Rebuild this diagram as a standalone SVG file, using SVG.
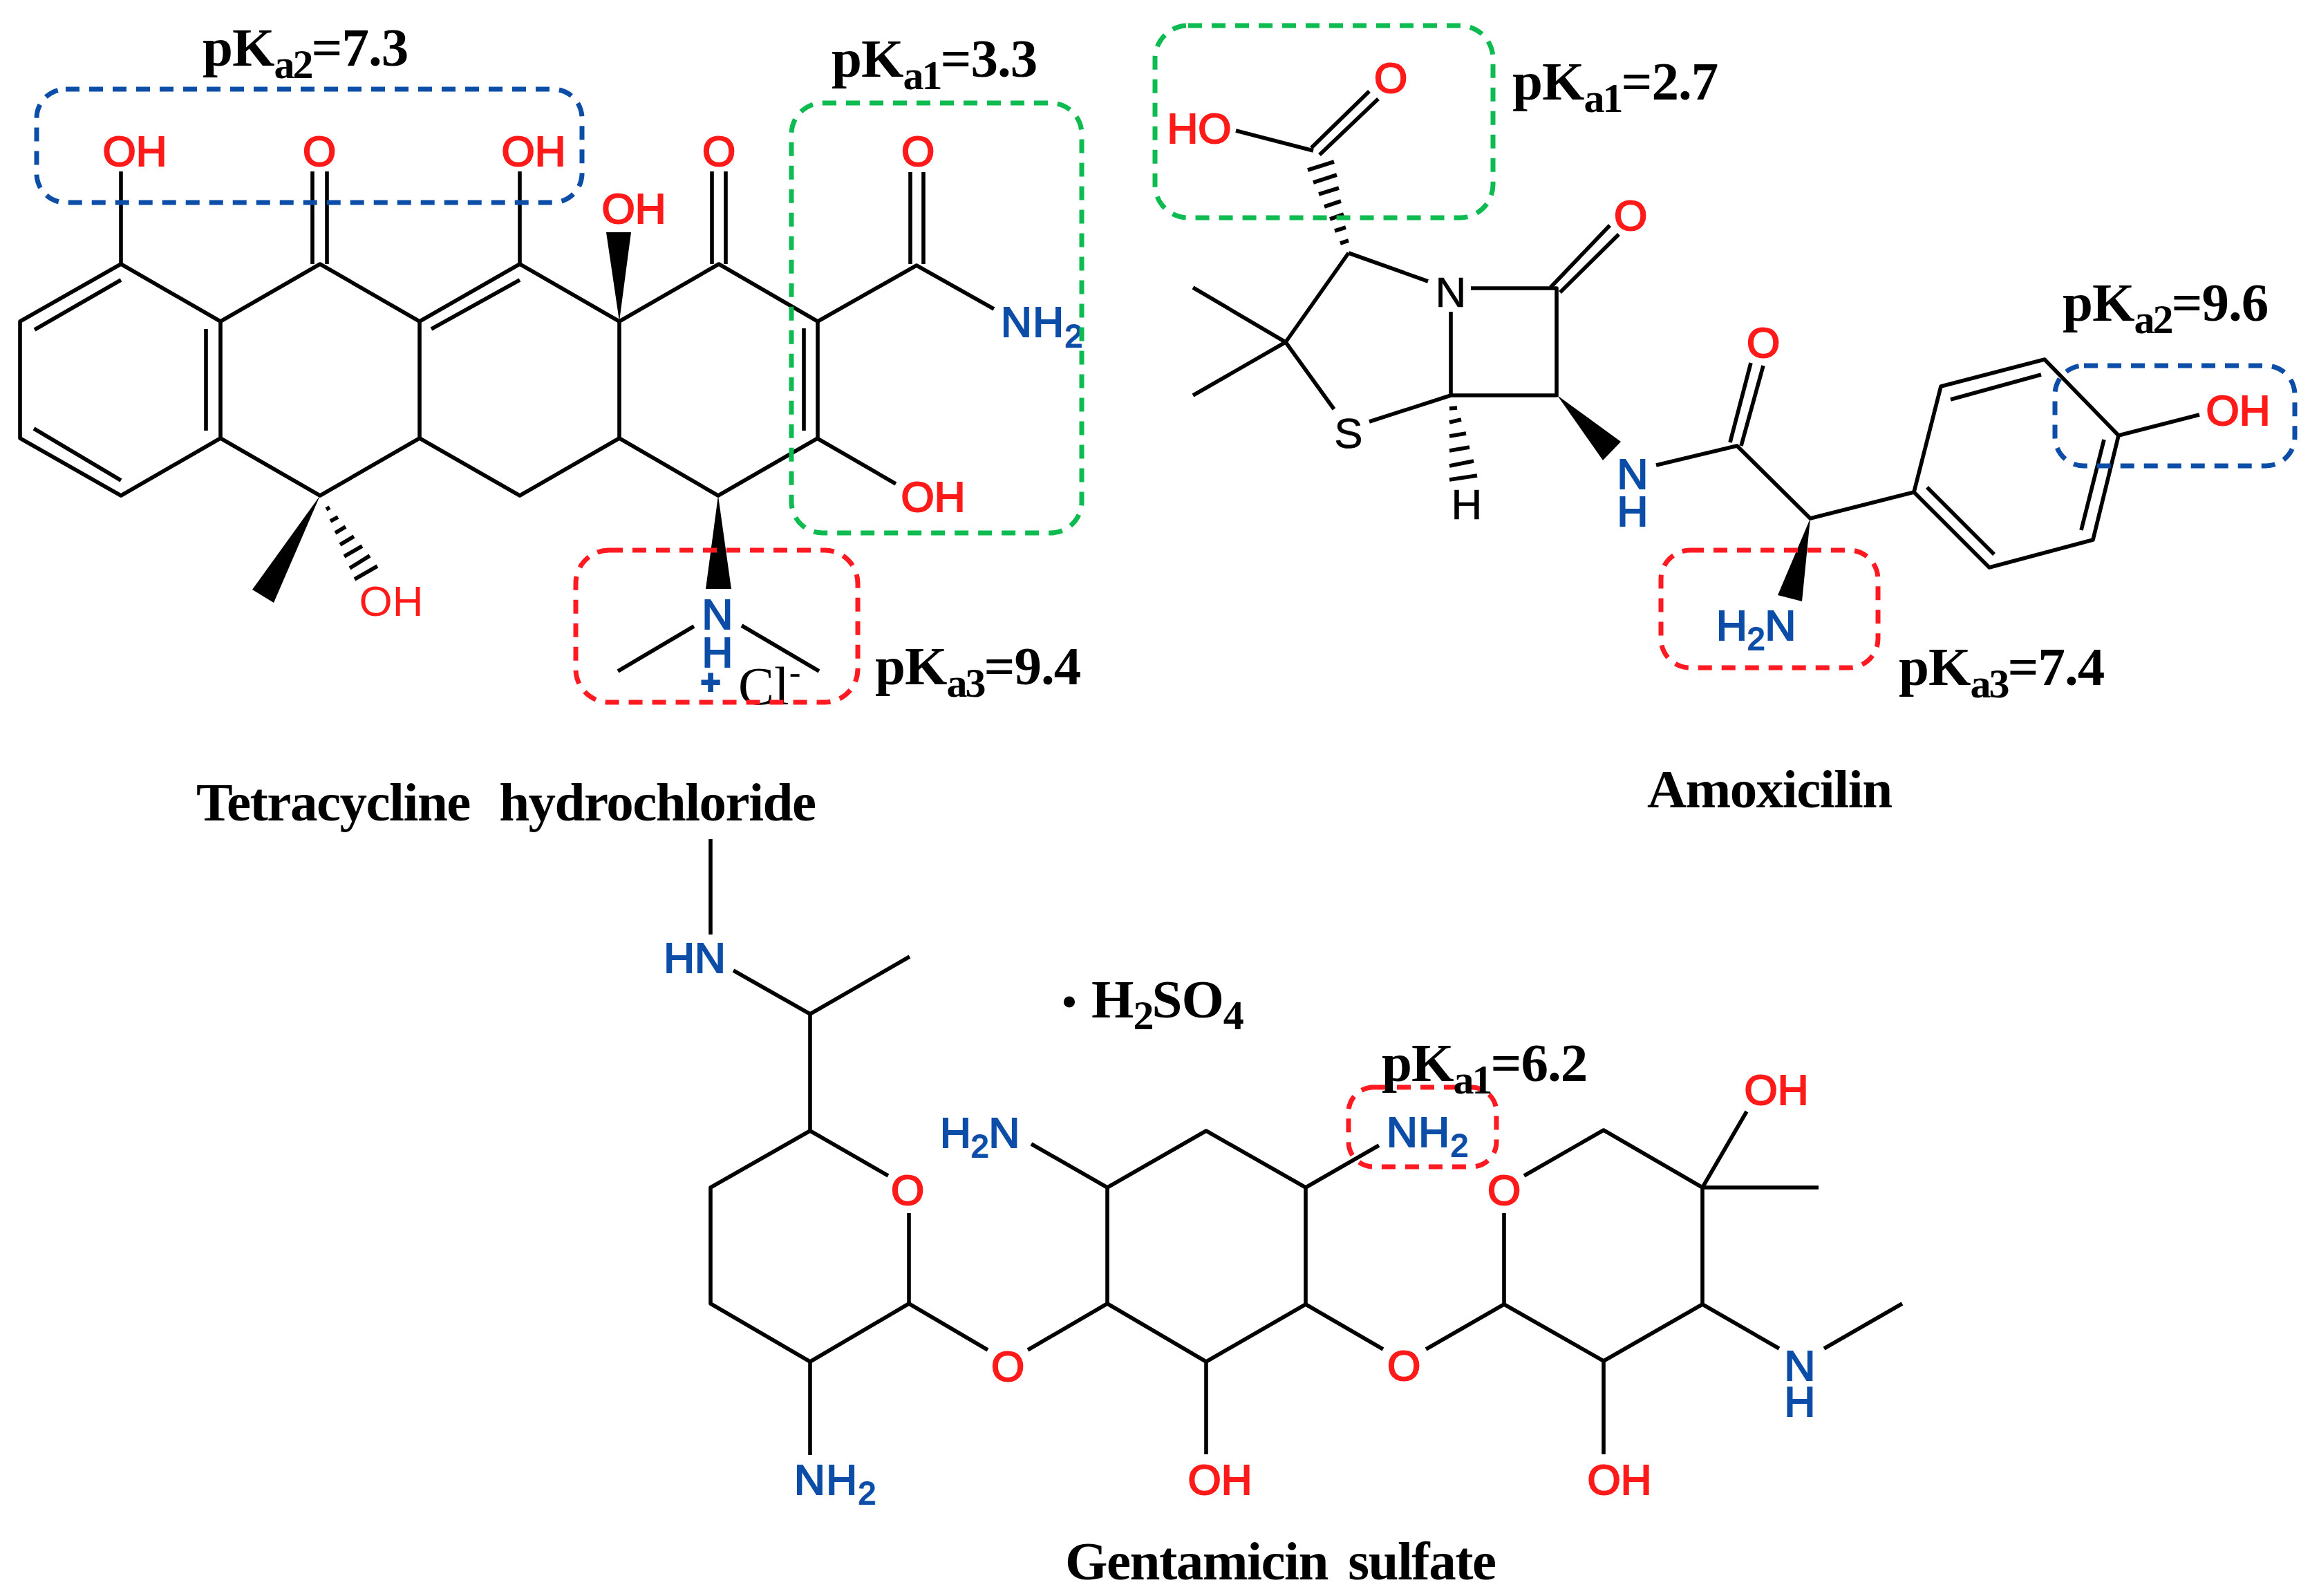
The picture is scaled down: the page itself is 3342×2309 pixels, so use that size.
<svg xmlns="http://www.w3.org/2000/svg" width="3342" height="2309" viewBox="0 0 3342 2309">
<style>
.b{fill:none;stroke:#000;stroke-width:5.6;stroke-linejoin:round}
.w{fill:#000;stroke:none}
.s{font-family:"Liberation Sans",Arial,sans-serif;font-size:62px}
.r{fill:#ff1a1a;stroke:#ff1a1a;stroke-width:2.2}
.u{fill:#0c4da8;stroke:#0c4da8;stroke-width:2.2}
.k{fill:#000;stroke:#000;stroke-width:.6}
.m{text-anchor:middle}
.t{font-family:"Liberation Serif","Times New Roman",serif;font-weight:bold;fill:#000}
.p{font-size:79px;letter-spacing:-1px}
.sub{font-size:60px;letter-spacing:-3px}
.ss{font-size:46px}
.n{font-size:79px;letter-spacing:-1.5px}
.d{fill:none;stroke-width:7;stroke-dasharray:20 14}
.dr{stroke:#ff1a22}.dg{stroke:#0dbb50}.db{stroke:#0c4da8}
</style>
<rect width="3342" height="2309" fill="#fff"/>

<g id="connectors">
<g id="tetracycline-bonds">
<path class="b" d="M175 382L319 465V634L175 717L29 634V465Z"/>
<path class="b" d="M319 465L463 382L607 465L752 382L896 465L1040 382L1183 465V634L1039 717L896 634L752 717L607 634L463 717L319 634"/>
<path class="b" d="M607 465V634M896 465V634"/>
<path class="b" d="M175 405L50 477M49 620L175 695M298 476V623M752 405L624 476"/>
<path class="b" d="M175 382V248M452 382V248M473 382V248M752 382V248M1030 382V248M1050 382V248"/>
<path class="b" d="M1163 475V623M1183 465L1326 384L1438 447M1317 382V249M1336 382V249M1182 634L1296 700"/>
<path class="b" d="M1004 906L894 971M1073 905L1185 971"/>
<path class="b" d="M472 737L477 734M478 754L489 748M485 771L500 762M492 788L512 776M498 805L524 790M506 822L535 804M513 838L546 819"/>
<path class="w" d="M896 465L877 336H913Z"/>
<path class="w" d="M463 717L365 853L396 872Z"/>
<path class="w" d="M1039 717L1021 852H1058Z"/>
</g>
<g id="amoxicilin-bonds">
<path class="b" d="M1951 366L2066 407M2128 417H2252V572H2099V451M1951 366L1860 495L1930 592M1860 495L1726 416M1860 495L1726 572M1981 610L2099 572"/>
<path class="b" d="M1900 218L1788 189M1981 132L1897 214M1994 143L1909 224"/>
<path class="b" d="M2243 416L2329 326M2257 423L2342 339"/>
<path class="b" d="M1892 246L1930 234M1900 264L1934 253M1908 281L1937 272M1916 299L1940 291M1924 317L1944 310M1931 334L1947 329M1939 352L1951 348"/>
<path class="b" d="M2097 591L2108 590M2097 611L2114 607M2097 631L2121 627M2097 652L2126 647M2097 674L2132 667M2097 694L2137 688"/>
<path class="w" d="M2253 572L2345 639L2319 666Z"/>
<path class="b" d="M2396 673L2513 645L2619 750L2769 712M2503 640L2533 525M2519 645L2551 529"/>
<path class="b" d="M2769 712L2808 559L2958 520L3065 630L3028 781L2878 821Z"/>
<path class="b" d="M2822 578L2953 542M2788 705L2885 802M3044 636L3011 767M3065 630L3182 600"/>
<path class="w" d="M2619 750L2572 861L2607 870Z"/>
</g>
<g id="gentamicin-bonds">
<path class="b" d="M1028 1214V1352M1061 1404L1172 1467L1316 1384M1172 1467V1636L1285 1701M1172 1636L1028 1718V1886L1172 1970L1315 1886V1755M1172 1970V2105"/>
<path class="b" d="M1315 1886L1429 1953M1487 1953L1602 1886V1718L1492 1655M1602 1718L1745 1636L1889 1718L1995 1657M1889 1718V1887L1745 1970L1602 1886M1745 1970V2104"/>
<path class="b" d="M1889 1887L2001 1952M2063 1952L2176 1887V1755M2205 1701L2320 1635L2463 1718V1887L2320 1969L2176 1887M2463 1718H2631M2463 1718L2527 1608M2320 1969V2104M2463 1887L2574 1951M2639 1951L2752 1886"/>
</g>
</g>

<g id="tetracycline-labels">
<text class="s r m" x="195" y="240">OH</text>
<text class="s r m" x="462" y="240">O</text>
<text class="s r m" x="772" y="240">OH</text>
<text class="s r m" x="1040" y="240">O</text>
<text class="s r m" x="1328" y="240">O</text>
<text class="s r m" x="917" y="323">OH</text>
<text class="s m" x="566" y="891" fill="#ff1a1a">OH</text>
<text class="s r m" x="1350" y="740">OH</text>
<text class="s u" x="1448" y="487" letter-spacing="1.5">NH<tspan class="ss" dy="15">2</tspan></text>
<text class="s u m" x="1038" y="910">N</text>
<text class="s u m" x="1038" y="965">H</text>
<text class="u m" x="1028" y="1004" font-family="Liberation Sans,Arial,sans-serif" font-size="50" font-weight="bold">+</text>
<text x="1068" y="1019" font-family="Liberation Serif,Times New Roman,serif" font-size="78" fill="#000">Cl<tspan font-size="50" dy="-30">-</tspan></text>
</g>

<g id="amoxicilin-labels">
<text class="s r m" x="2012" y="134">O</text>
<text class="s r m" x="1735" y="207">HO</text>
<text class="s r m" x="2359" y="333">O</text>
<text class="s r m" x="2551" y="517">O</text>
<text class="s r m" x="3238" y="615">OH</text>
<text class="s k m" x="2099" y="444">N</text>
<text class="s k m" x="1951" y="648">S</text>
<text class="s k m" x="2122" y="751">H</text>
<text class="s u m" x="2362" y="707">N</text>
<text class="s u m" x="2362" y="761">H</text>
<text class="s u" x="2483" y="926">H<tspan class="ss" dy="14">2</tspan><tspan dy="-14">N</tspan></text>
</g>

<g id="gentamicin-labels">
<text class="s u m" x="1005" y="1407">HN</text>
<text class="s r m" x="1313" y="1743">O</text>
<text class="s r m" x="1458" y="1998">O</text>
<text class="s r m" x="2031" y="1997">O</text>
<text class="s r m" x="2176" y="1743">O</text>
<text class="s u" x="1149" y="2162" letter-spacing="1.5">NH<tspan class="ss" dy="14">2</tspan></text>
<text class="s u" x="1360" y="1660">H<tspan class="ss" dy="14">2</tspan><tspan dy="-14">N</tspan></text>
<text class="s u" x="2006" y="1659" letter-spacing="1.5">NH<tspan class="ss" dy="14">2</tspan></text>
<text class="s r m" x="1765" y="2162">OH</text>
<text class="s r m" x="2570" y="1598">OH</text>
<text class="s r m" x="2343" y="2162">OH</text>
<text class="s u m" x="2604" y="1997">N</text>
<text class="s u m" x="2604" y="2049">H</text>
</g>

<g id="highlight-boxes">
<rect id="box-tc-pka2" class="d db" x="53" y="129" width="789" height="164" rx="42"/>
<rect id="box-tc-pka1" class="d dg" x="1145" y="149" width="420" height="622" rx="45"/>
<rect id="box-tc-pka3" class="d dr" x="833" y="796" width="408" height="220" rx="48"/>
<rect id="box-am-pka1" class="d dg" x="1671" y="37" width="489" height="278" rx="48"/>
<rect id="box-am-pka2" class="d db" x="2973" y="529" width="347" height="145" rx="42"/>
<rect id="box-am-pka3" class="d dr" x="2403" y="796" width="314" height="170" rx="42"/>
<rect id="box-gm-pka1" class="d dr" x="1951" y="1573" width="214" height="115" rx="36"/>
</g>

<g id="pka-labels">
<text class="t p" x="293" y="95">pK<tspan class="sub" dy="18">a2</tspan><tspan dy="-18">=7.3</tspan></text>
<text class="t p" x="1203" y="111">pK<tspan class="sub" dy="18">a1</tspan><tspan dy="-18">=3.3</tspan></text>
<text class="t p" x="1266" y="990">pK<tspan class="sub" dy="18">a3</tspan><tspan dy="-18">=9.4</tspan></text>
<text class="t p" x="2188" y="144">pK<tspan class="sub" dy="18">a1</tspan><tspan dy="-18">=2.7</tspan></text>
<text class="t p" x="2984" y="464">pK<tspan class="sub" dy="18">a2</tspan><tspan dy="-18">=9.6</tspan></text>
<text class="t p" x="2747" y="991">pK<tspan class="sub" dy="18">a3</tspan><tspan dy="-18">=7.4</tspan></text>
<text class="t p" x="1999" y="1564">pK<tspan class="sub" dy="18">a1</tspan><tspan dy="-18">=6.2</tspan></text>
<text class="t m" x="1547" y="1469" font-size="60">•</text>
<text class="t p" x="1579" y="1472">H<tspan class="sub" dy="17">2</tspan><tspan dy="-17">SO</tspan><tspan class="sub" dy="17">4</tspan></text>
</g>

<g id="names">
<text class="t n" x="284" y="1187" word-spacing="24">Tetracycline hydrochloride</text>
<text class="t n" x="2383" y="1168">Amoxicilin</text>
<text class="t n" x="1541" y="2285" word-spacing="11">Gentamicin sulfate</text>
</g>
</svg>
